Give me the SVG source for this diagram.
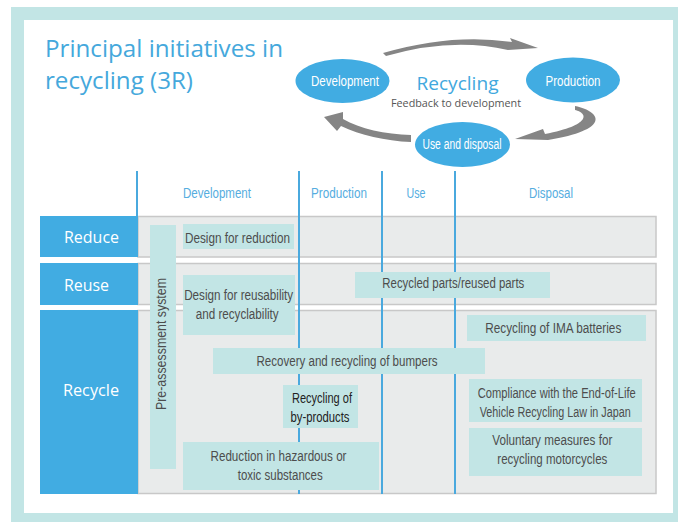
<svg xmlns="http://www.w3.org/2000/svg" width="678" height="522" viewBox="0 0 678 522">
<style>
.frame{fill:#c2e5e5}
.band{fill:#e9ebeb;stroke:#c8c8c8;stroke-width:1.5}
.lab{fill:#41ace2}
.cell{fill:#c2e5e5}
.ell{fill:#41ace2}
.arr{fill:#858585}
.col{stroke:#4aa9de;stroke-width:2;fill:none}
.t{font-family:"Liberation Sans",Arial,sans-serif;font-size:14px;fill:#4d4d4d;text-anchor:middle}
.dk{fill:#222}
.hd{font-family:"Liberation Sans",Arial,sans-serif;font-size:14px;fill:#55ade0;text-anchor:middle}
.et{font-family:"Liberation Sans",Arial,sans-serif;font-size:14px;fill:#ffffff;text-anchor:middle}
.rl{font-family:"Open Sans","Liberation Sans",sans-serif;font-size:17px;fill:#ffffff}
.ti{font-family:"Open Sans","Liberation Sans",sans-serif;font-size:23px;fill:#45a8dc}
</style>
<rect class="frame" x="11" y="7" width="680" height="530"/>
<rect x="24" y="20" width="649" height="493" fill="#ffffff"/>
<g id="title">
<text class="ti" x="45" y="57" textLength="238" lengthAdjust="spacingAndGlyphs">Principal initiatives in</text>
<text class="ti" x="45" y="89" textLength="148" lengthAdjust="spacingAndGlyphs">recycling (3R)</text>
</g>
<g id="cycle-arrows">
<path class="arr" d="M383,53 Q452,33 512,42 L510,38 L538,48 L508,50 Q452,37 386,56 Z"/>
<path class="arr" d="M575,106 C603,112 610,130 548,140 L515,139 L543,129 L545,134 C592,125 588,113 575,110 Z"/>
<path class="arr" d="M411,135 C385,134 360,129 343,119 L343,112 L324,117 L337,131 L341,126 C360,135 385,141 411,142 Z"/>
</g>
<g id="cycle-center">
<text x="457.5" y="90" font-family="'Open Sans','Liberation Sans',sans-serif" font-size="19" fill="#41a8de" text-anchor="middle" textLength="82" lengthAdjust="spacingAndGlyphs">Recycling</text>
<text x="456" y="107" font-family="'Open Sans','Liberation Sans',sans-serif" font-size="11" fill="#555555" text-anchor="middle" textLength="130" lengthAdjust="spacingAndGlyphs">Feedback to development</text>
</g>
<g id="node-development">
<ellipse class="ell" cx="342.5" cy="81" rx="47" ry="22"/>
<text class="et" x="345" y="86" textLength="68" lengthAdjust="spacingAndGlyphs">Development</text>
</g>
<g id="node-production">
<ellipse class="ell" cx="573" cy="80" rx="47" ry="22.5"/>
<text class="et" x="573" y="86" textLength="55" lengthAdjust="spacingAndGlyphs">Production</text>
</g>
<g id="node-use">
<ellipse class="ell" cx="462.5" cy="144.5" rx="47.5" ry="22.5"/>
<text class="et" x="462" y="149" textLength="79" lengthAdjust="spacingAndGlyphs">Use and disposal</text>
</g>
<g id="headers">
<text class="hd" x="217" y="198" textLength="68" lengthAdjust="spacingAndGlyphs">Development</text>
<text class="hd" x="339" y="198" textLength="56" lengthAdjust="spacingAndGlyphs">Production</text>
<text class="hd" x="416" y="198" textLength="19" lengthAdjust="spacingAndGlyphs">Use</text>
<text class="hd" x="551" y="198" textLength="44" lengthAdjust="spacingAndGlyphs">Disposal</text>
</g>
<g id="bands">
<rect class="band" x="138" y="216.5" width="518" height="40.5"/>
<rect class="band" x="138" y="263.5" width="518" height="41"/>
<rect class="band" x="138" y="310.5" width="518" height="183"/>
</g>
<g id="connectors">
<line class="col" x1="137" y1="171" x2="137" y2="216"/>
<line class="col" x1="299" y1="171" x2="299" y2="494"/>
<line class="col" x1="382" y1="171" x2="382" y2="494"/>
<line class="col" x1="455" y1="171" x2="455" y2="494"/>
</g>
<g id="row-reduce">
<rect class="lab" x="40" y="216" width="98" height="41"/>
<text class="rl" x="64" y="243" textLength="55" lengthAdjust="spacingAndGlyphs">Reduce</text>
</g>
<g id="row-reuse">
<rect class="lab" x="40" y="263" width="98" height="42"/>
<text class="rl" x="64" y="291" textLength="45" lengthAdjust="spacingAndGlyphs">Reuse</text>
</g>
<g id="row-recycle">
<rect class="lab" x="40" y="310" width="98" height="184"/>
<text class="rl" x="63" y="396" textLength="56" lengthAdjust="spacingAndGlyphs">Recycle</text>
</g>
<g id="pre-assessment">
<rect class="cell" x="150" y="225" width="26" height="244"/>
<text class="t" transform="translate(166,344) rotate(-90)" x="0" y="0" textLength="132" lengthAdjust="spacingAndGlyphs">Pre-assessment system</text>
</g>
<g id="design-reduction">
<rect class="cell" x="183" y="224" width="111" height="25"/>
<text class="t" x="237.5" y="243" textLength="105" lengthAdjust="spacingAndGlyphs">Design for reduction</text>
</g>
<g id="design-reusability">
<rect class="cell" x="183" y="275" width="112" height="60"/>
<text class="t" x="238.7" y="300" textLength="109" lengthAdjust="spacingAndGlyphs">Design for reusability</text>
<text class="t" x="237.2" y="319" textLength="83" lengthAdjust="spacingAndGlyphs">and recyclability</text>
</g>
<g id="recycled-parts">
<rect class="cell" x="355" y="272" width="195" height="26"/>
<text class="t" x="453.3" y="288" textLength="142" lengthAdjust="spacingAndGlyphs">Recycled parts/reused parts</text>
</g>
<g id="ima-batteries">
<rect class="cell" x="467" y="315" width="179" height="26"/>
<text class="t" x="553.3" y="333" textLength="136" lengthAdjust="spacingAndGlyphs">Recycling of IMA batteries</text>
</g>
<g id="bumpers">
<rect class="cell" x="213" y="348" width="272" height="26"/>
<text class="t" x="347" y="366" textLength="181" lengthAdjust="spacingAndGlyphs">Recovery and recycling of bumpers</text>
</g>
<g id="by-products">
<rect class="cell" x="283" y="385" width="75" height="43"/>
<text class="t dk" x="322" y="403" textLength="60" lengthAdjust="spacingAndGlyphs">Recycling of</text>
<text class="t dk" x="320" y="422" textLength="59" lengthAdjust="spacingAndGlyphs">by-products</text>
</g>
<g id="hazardous">
<rect class="cell" x="183" y="442" width="196" height="48"/>
<text class="t" x="278.5" y="461" textLength="136" lengthAdjust="spacingAndGlyphs">Reduction in hazardous or</text>
<text class="t" x="280.2" y="480" textLength="85" lengthAdjust="spacingAndGlyphs">toxic substances</text>
</g>
<g id="elv-law">
<rect class="cell" x="469" y="379" width="173" height="43"/>
<text class="t" x="556.7" y="398" textLength="158" lengthAdjust="spacingAndGlyphs">Compliance with the End-of-Life</text>
<text class="t" x="555.2" y="417" textLength="151" lengthAdjust="spacingAndGlyphs">Vehicle Recycling Law in Japan</text>
</g>
<g id="motorcycles">
<rect class="cell" x="469" y="428" width="173" height="48"/>
<text class="t" x="552.3" y="445" textLength="120" lengthAdjust="spacingAndGlyphs">Voluntary measures for</text>
<text class="t" x="552.3" y="464" textLength="110" lengthAdjust="spacingAndGlyphs">recycling motorcycles</text>
</g>
</svg>
